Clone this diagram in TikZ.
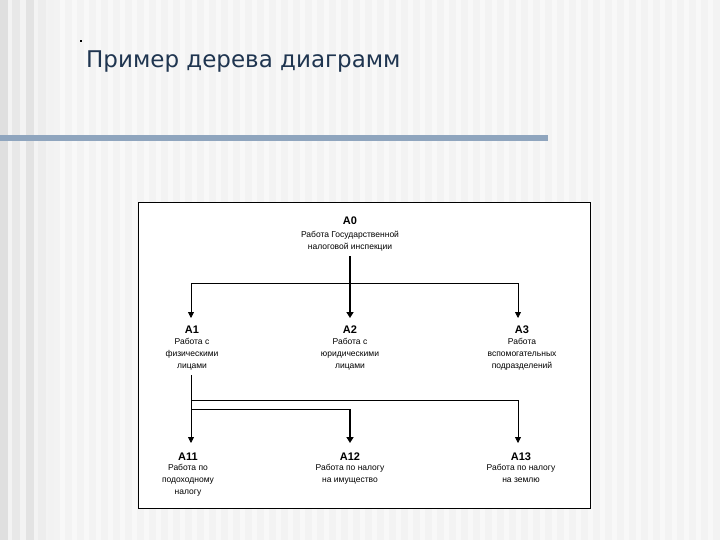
\documentclass[tikz,border=0pt]{standalone}
\usepackage{fontspec}
\setmainfont{Liberation Sans}
\newfontfamily\titlefont{DejaVu Sans}
\usetikzlibrary{arrows.meta}
\definecolor{bg}{HTML}{F3F3F3}
\definecolor{barc}{HTML}{8FA5BE}
\definecolor{titlec}{HTML}{1F3550}
\begin{document}
\begin{tikzpicture}[x=1pt,y=-1pt,
  lbl/.style={font=\bfseries\fontsize{11}{12}\selectfont,inner sep=0pt},
  txt/.style={font=\fontsize{8.5}{12}\selectfont,align=center,inner sep=0pt,anchor=north},
  conn/.style={line width=0.8pt},
  arr/.style={conn,-{Triangle[length=6pt,width=6pt]}},
  thick arr/.style={line width=1.6pt,-{Triangle[length=6pt,width=7pt]}}]
\useasboundingbox (0,0) rectangle (720,540);
\fill[bg] (0,0) rectangle (720,540);
\foreach \x in {60,72,...,720}{\fill[white,opacity=0.45] (\x,0) rectangle (\x+5,540);}
\fill[gray!25] (0,0) rectangle (8,540);
\fill[gray!18] (12,0) rectangle (20,540);
\fill[gray!22] (26,0) rectangle (34,540);
\fill[gray!14] (38,0) rectangle (46,540);
\fill[gray!10] (48,0) rectangle (54,540);
\fill[barc] (0,135) rectangle (548,141);
\node[fill=black,inner sep=0pt,minimum size=1.5pt] (dot) at (81,41) {};
\node[font=\titlefont\fontsize{23}{26}\selectfont,text=titlec,anchor=west,inner sep=0pt] (title) at (86,62) {Пример дерева диаграмм};
\draw[fill=white,line width=0.6pt] (138,202) rectangle (590,508);
% nodes
\node[lbl] (A0) at (350,221) {A0};
\node[txt] (t0) at (350,231) {Работа Государственной\\налоговой инспекции};
\node[lbl] (A1) at (192,330) {A1};
\node[txt] (t1) at (192,338) {Работа с\\физическими\\лицами};
\node[lbl] (A2) at (350,330) {A2};
\node[txt] (t2) at (350,338) {Работа с\\юридическими\\лицами};
\node[lbl] (A3) at (522,330) {A3};
\node[txt] (t3) at (522,338) {Работа\\вспомогательных\\подразделений};
\node[lbl] (A11) at (188,457) {A11};
\node[txt] (t11) at (188,464) {Работа по\\подоходному\\налогу};
\node[lbl] (A12) at (350,457) {A12};
\node[txt] (t12) at (350,464) {Работа по налогу\\на имущество};
\node[lbl] (A13) at (521,457) {A13};
\node[txt] (t13) at (521,464) {Работа по налогу\\на землю};
% connectors
\coordinate (s0) at (350,256);
\coordinate (h1) at (191,283);
\coordinate (h3) at (518,283);
\draw[thick arr] (s0) -- (350,318);
\draw[conn] (h1) -- (h3);
\draw[arr] (h1) -- (191,318);
\draw[arr] (h3) -- (518,318);
\coordinate (s1) at (191,375);
\coordinate (j1) at (191,409);
\draw[arr] (s1) -- (191,443);
\draw[conn] (191,400) -- (518,400);
\draw[arr] (518,400) -- (518,443);
\draw[conn] (j1) -- (350,409);
\draw[thick arr] (350,409) -- (350,443);
\end{tikzpicture}
\end{document}
